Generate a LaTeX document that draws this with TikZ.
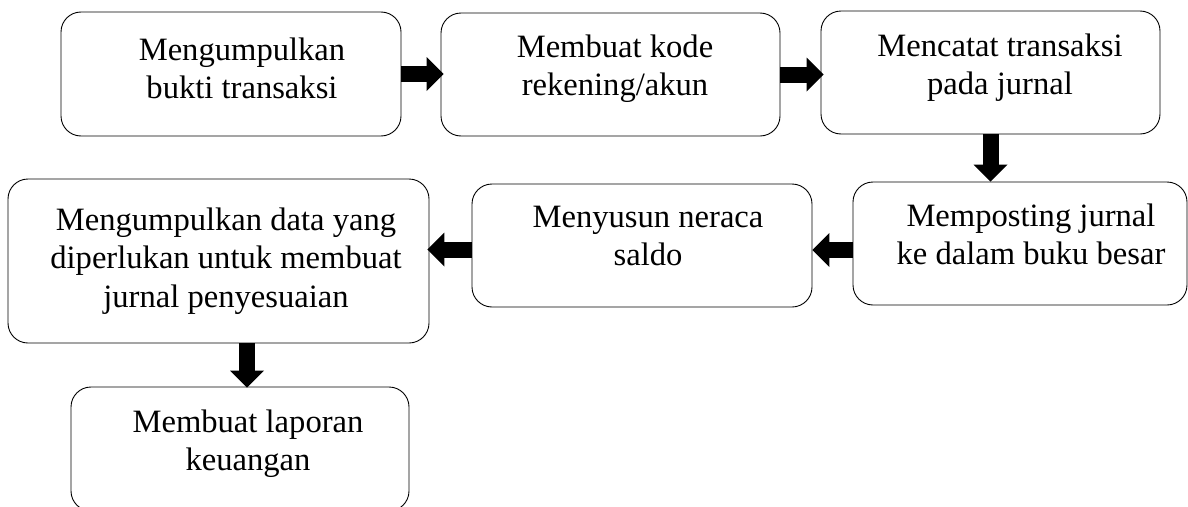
\documentclass[tikz,border=0pt]{standalone}
\usepackage{fontspec}
\setmainfont{Liberation Serif}
\usetikzlibrary{arrows.meta,calc}
\begin{document}
\begin{tikzpicture}[x=1pt,y=1pt,
  box/.style={draw=black, line width=0.9pt, rounded corners=20pt, inner sep=0pt},
  lbl/.style={anchor=base, inner sep=0pt, font=\fontsize{32.6}{38.5}\selectfont},
  blk/.style={draw=black, line width=16pt, -{Triangle[length=17pt,width=34pt,line width=0pt]}},
]
\useasboundingbox (0,0) rectangle (1188,-506);
\fill[white] (0,0) rectangle (1188,-506);

% boxes
\node[box, minimum width=340pt, minimum height=124pt] (b1) at (231,-74) {};
\node[box, minimum width=339pt, minimum height=123pt] (b2) at (610.5,-74.5) {};
\node[box, minimum width=339pt, minimum height=123pt] (b3) at (990.5,-72.5) {};
\node[box, minimum width=334pt, minimum height=123pt] (b4) at (1020,-243.5) {};
\node[box, minimum width=340pt, minimum height=123pt] (b5) at (642,-245.5) {};
\node[box, minimum width=421pt, minimum height=164pt] (b6) at (218.5,-261) {};
\node[box, minimum width=338pt, minimum height=124pt] (b7) at (240,-449) {};

% texts
\node[lbl] (t1) at (242,-60) {\begin{tabular}[t]{@{}c@{}}Mengumpulkan\\bukti transaksi\end{tabular}};
\node[lbl] (t2) at (615,-57) {\begin{tabular}[t]{@{}c@{}}Membuat kode\\rekening/akun\end{tabular}};
\node[lbl] (t3) at (1000,-56) {\begin{tabular}[t]{@{}c@{}}Mencatat transaksi\\pada jurnal\end{tabular}};
\node[lbl] (t4) at (1031,-226) {\begin{tabular}[t]{@{}c@{}}Memposting jurnal\\ke dalam buku besar\end{tabular}};
\node[lbl] (t5) at (648,-227) {\begin{tabular}[t]{@{}c@{}}Menyusun neraca\\saldo\end{tabular}};
\node[lbl] (t6) at (226,-230) {\begin{tabular}[t]{@{}c@{}}Mengumpulkan data yang\\diperlukan untuk membuat\\jurnal penyesuaian\end{tabular}};
\node[lbl] (t7) at (248,-432) {\begin{tabular}[t]{@{}c@{}}Membuat laporan\\keuangan\end{tabular}};

% block arrows
\draw[blk] (b1.east) -- ($(b1.east -| b2.west)+(3,0)$);
\draw[blk] (b2.east) -- ($(b2.east -| b3.west)+(3,0)$);
\draw[blk] (b3.south) -- (b3.south |- b4.north);
\coordinate (a4s) at ($(b4.west)+(0,-6.5)$);
\draw[blk] (a4s) -- (a4s -| b5.east);
\coordinate (a5s) at ($(b5.west)+(0,-4)$);
\draw[blk] (a5s) -- ($(a5s -| b6.east)+(-2,0)$);
\coordinate (a6s) at ($(b6.south)+(28.5,0)$);
\draw[blk] (a6s) -- ($(a6s |- b7.north)+(0,-1)$);
\end{tikzpicture}
\end{document}
